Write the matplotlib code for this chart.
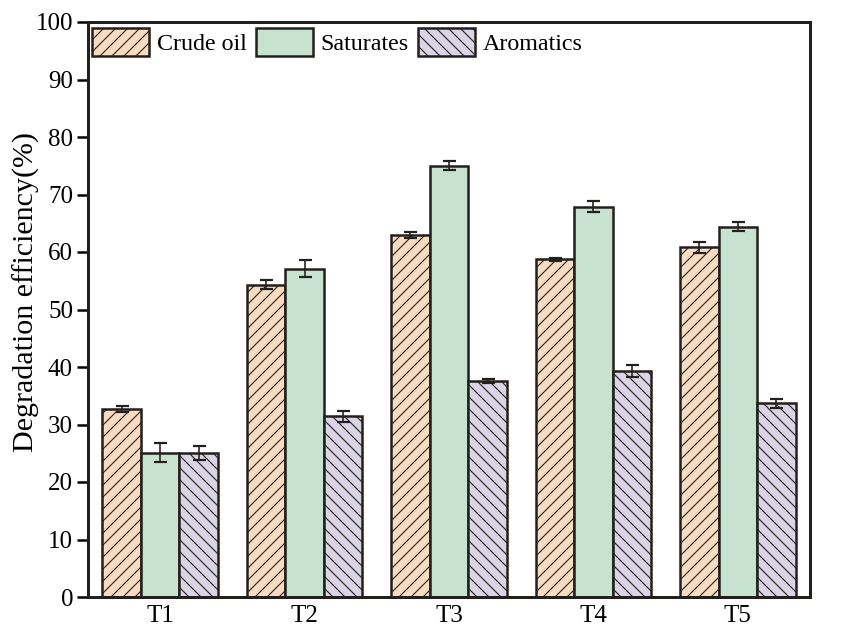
import matplotlib
matplotlib.use("Agg")
import matplotlib.pyplot as plt
import numpy as np

categories = ["T1", "T2", "T3", "T4", "T5"]
series_names = ["Crude oil", "Saturates", "Aromatics"]
crude_oil = [32.7, 54.3, 63.0, 58.7, 60.8]
crude_oil_err = [0.6, 0.8, 0.5, 0.2, 0.9]
saturates = [25.1, 57.1, 75.0, 67.9, 64.4]
saturates_err = [1.6, 1.5, 0.8, 1.0, 0.8]
aromatics = [25.1, 31.4, 37.6, 39.3, 33.7]
aromatics_err = [1.2, 0.9, 0.4, 1.1, 0.8]
y_ticks = [0, 10, 20, 30, 40, 50, 60, 70, 80, 90, 100]

plt.rcParams['font.family'] = ['Liberation Serif', 'DejaVu Serif']
plt.rcParams['hatch.linewidth'] = 1.1

DPI = 72
fig = plt.figure(figsize=(842 / DPI, 642 / DPI), dpi=DPI)
ax = fig.add_axes([88 / 842, 1 - 597 / 642, (810 - 88) / 842, (597 - 22) / 642])

x = np.arange(len(categories))
width = 0.267
fills = ["#F8DCC2", "#C8E2D0", "#D9D5E6"]
hatches = ["//", "", "\\\\"]
edge = "#231f1c"
data = [(crude_oil, crude_oil_err), (saturates, saturates_err), (aromatics, aromatics_err)]

for i, (name, (vals, errs)) in enumerate(zip(series_names, data)):
    ax.bar(x + (i - 1) * width, vals, width, color=fills[i], edgecolor=edge,
           linewidth=2.5, hatch=hatches[i], label=name, zorder=2)
    ax.errorbar(x + (i - 1) * width, vals, yerr=errs, fmt="none", ecolor=edge,
                elinewidth=1.6, capsize=6.5, capthick=2.2, zorder=3)

ax.set_xlim(-0.5, 4.5)
ax.set_ylim(0, 100)
ax.set_yticks(y_ticks)
ax.set_xticks(x)
ax.set_xticklabels(categories)
ax.tick_params(axis="y", direction="out", length=11, width=2.5, labelsize=25, pad=4)
ax.tick_params(axis="x", length=0, labelsize=25, pad=8)
for s in ax.spines.values():
    s.set_linewidth(3)
    s.set_color(edge)

ax.set_ylabel("Degradation efficiency(%)", fontsize=30)
ax.yaxis.set_label_coords(-0.067, 0.53)

leg = ax.legend(loc="upper left", bbox_to_anchor=(4 / 722, 1 - 6 / 575), ncol=3,
                frameon=False, fontsize=24, handlelength=2.375, handleheight=1.4,
                handletextpad=0.33, columnspacing=0.38, borderpad=0, borderaxespad=0)

fig.savefig("out.png", dpi=DPI)
